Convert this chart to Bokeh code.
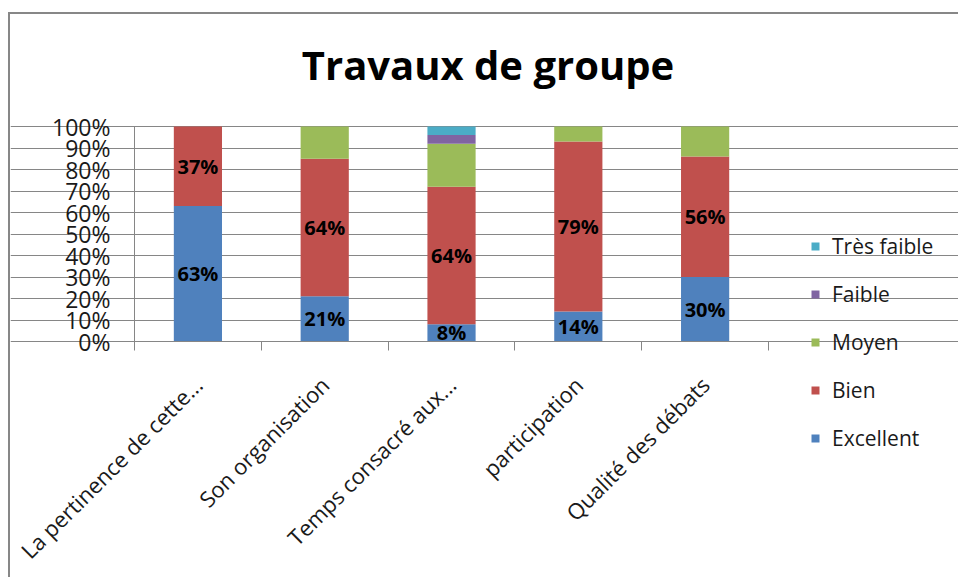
import math
from bokeh.plotting import figure
from bokeh.core.properties import value
from bokeh.models import (ColumnDataSource, Range1d, FixedTicker, NumeralTickFormatter,
                          LabelSet, Label, Legend, LegendItem)
from bokeh.embed import file_html
from bokeh.resources import INLINE

# ---- data ----
categories = ["La pertinence de cette...", "Son organisation", "Temps consacré aux...",
              "participation", "Qualité des débats"]
series_names = ["Excellent", "Bien", "Moyen", "Faible", "Très faible"]
excellent = [63, 21, 8, 14, 30]
bien = [37, 64, 64, 79, 56]
moyen = [0, 15, 20, 7, 14]
faible = [0, 0, 4, 0, 0]
tres_faible = [0, 0, 4, 0, 0]
y_ticks = [0, 10, 20, 30, 40, 50, 60, 70, 80, 90, 100]
title_text = "Travaux de groupe"

colors = ["#4F81BD", "#C0504D", "#9BBB59", "#8064A2", "#4BACC6"]
FONT = "Open Sans"
GRID = "#868686"
TEXT = "#1a1a1a"

idx = list(range(len(categories)))
all_series = [excellent, bien, moyen, faible, tres_faible]
data = {"x": idx}
for name, vals in zip(series_names, all_series):
    data[name] = [v / 100 for v in vals]
src = ColumnDataSource(data)

# plot area bounds (data units)
X0, X1 = -0.5, len(categories) - 0.5
XS, XE = -1.478, 6.014

p = figure(width=950, height=565, output_backend="svg", toolbar_location=None,
           x_range=Range1d(XS, XE), y_range=Range1d(-1.107, 1.521),
           min_border_left=0, min_border_right=0, min_border_top=0,
           min_border_bottom=0)
p.outline_line_color = None

renderers = p.vbar_stack(series_names, x="x", width=0.38, color=colors,
                         line_width=0, line_color=None, source=src)

# x axis: category boundary ticks + slanted category labels, drawn at y = 0
p.xgrid.visible = False
p.xaxis.fixed_location = 0
p.xaxis.bounds = (X0, X1)
p.xaxis.ticker = FixedTicker(ticks=idx,
                             minor_ticks=[i - 0.5 for i in range(len(categories) + 1)])
p.xaxis.major_label_overrides = {i: c for i, c in zip(idx, categories)}
p.xaxis.major_label_orientation = math.pi / 4
p.xaxis.major_tick_line_color = None
p.xaxis.major_tick_in = 0
p.xaxis.major_tick_out = 0
p.xaxis.major_label_standoff = 30
p.xaxis.major_label_text_font = FONT
p.xaxis.major_label_text_font_size = "22px"
p.xaxis.major_label_text_color = TEXT
p.xaxis.minor_tick_in = 0
p.xaxis.minor_tick_out = 9
p.xaxis.minor_tick_line_color = GRID
p.xaxis.axis_line_color = GRID

# y axis at the left edge of the plot area
p.yaxis.fixed_location = X0
p.yaxis.bounds = (0, 1)
p.yaxis.ticker = FixedTicker(ticks=[v / 100 for v in y_ticks])
p.yaxis.formatter = NumeralTickFormatter(format="0%")
p.yaxis.major_tick_in = 0
p.yaxis.major_tick_out = 9
p.yaxis.major_tick_line_color = GRID
p.yaxis.minor_tick_line_color = None
p.yaxis.axis_line_color = GRID
p.yaxis.major_label_standoff = 15
p.yaxis.major_label_text_font = FONT
p.yaxis.major_label_text_font_size = "23px"
p.yaxis.major_label_text_color = TEXT
p.ygrid.grid_line_color = GRID
p.ygrid.bounds = (X0, X1)

# data labels (Excellent and Bien)
lx, ly, lt = [], [], []
for i in idx:
    e, b = excellent[i], bien[i]
    lx += [i, i]
    ly += [e / 200, (e + b / 2) / 100]
    lt += [f"{e}%", f"{b}%"]
p.add_layout(LabelSet(x="x", y="y", text="t",
                      source=ColumnDataSource(dict(x=lx, y=ly, t=lt)),
                      text_align="center", text_baseline="middle",
                      text_font=value(FONT), text_font_style="bold",
                      text_font_size="20px", text_color="black"))

# title
p.add_layout(Label(x=477.5, y=515, x_units="screen", y_units="screen",
                   text=title_text, text_font=FONT, text_font_style="bold",
                   text_font_size="40px", text_align="center",
                   text_baseline="alphabetic", text_color="black"))

# legend (top entry = last series)
items = [LegendItem(label=n, renderers=[r])
         for n, r in reversed(list(zip(series_names, renderers)))]
legend = Legend(items=items, location=(800, 127),
                glyph_width=10, glyph_height=10, label_height=24, spacing=20,
                label_standoff=12, padding=0, margin=0,
                border_line_color=None, background_fill_alpha=0,
                label_text_font=FONT, label_text_font_size="21px",
                label_text_color=TEXT)
p.add_layout(legend)

p.styles = {"border-top": "2px solid #878787", "border-left": "2px solid #878787",
            "margin-top": "12px", "margin-left": "8px"}

open("out.html", "w").write(file_html(p, INLINE))
